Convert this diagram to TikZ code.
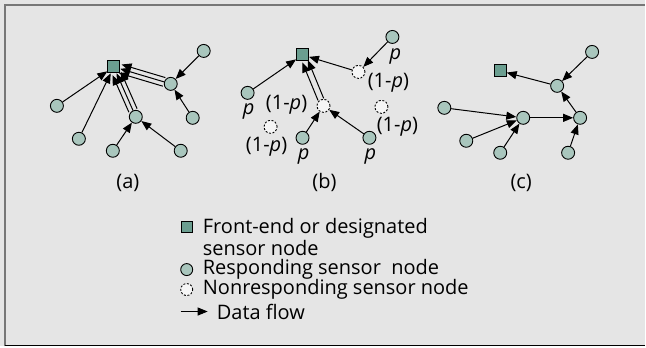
\documentclass[tikz,border=0pt]{standalone}
\usepackage{fontspec}
\setmainfont{Open Sans}
\usetikzlibrary{arrows.meta}

\definecolor{panelgray}{HTML}{E5E5E5}
\definecolor{framegray}{HTML}{777777}
\definecolor{frontgreen}{HTML}{6B9E90}
\definecolor{sensorgreen}{HTML}{A9C6BD}
\definecolor{silentwhite}{HTML}{F6F6F6}

\begin{document}
\begin{tikzpicture}[x=1pt,y=-1pt,>={Triangle[length=10pt,width=8pt]},
    front node/.style={rectangle,fill=frontgreen,draw,line width=0.9pt,
      minimum size=12pt,inner sep=0pt},
    sensor node/.style={circle,fill=sensorgreen,draw,line width=0.9pt,
      minimum size=13pt,inner sep=0pt},
    silent node/.style={circle,fill=silentwhite,draw,line width=0.9pt,
      dash pattern=on 2pt off 1.6pt,minimum size=13pt,inner sep=0pt},
    flow/.style={->,line width=1pt},
    lbl/.style={font=\fontsize{20}{21.5}\selectfont,inner sep=0pt}]

  % background and frame
  \fill[panelgray] (0,0) rectangle (646,347);
  \draw[framegray,line width=2pt] (5,347) -- (5,5) -- (646,5);
  \draw[black,line width=1.5pt] (5,346) -- (646,346);

  % (a)
  \node[front node] (aF) at (114,67) {};
  \node[sensor node] (a1) at (204,51) {};
  \node[sensor node] (a2) at (171,84) {};
  \node[sensor node] (a3) at (193,118) {};
  \node[sensor node] (a4) at (136,117) {};
  \node[sensor node] (a5) at (57,106) {};
  \node[sensor node] (a6) at (79,139) {};
  \node[sensor node] (a7) at (113,151) {};
  \node[sensor node] (a8) at (181,151) {};
  \node[lbl] (aL) at (128,183) {(a)};

  \path[flow]
  (a1) edge (a2)
  (a3) edge (a2)
  (a7) edge (a4)
  (a8) edge (a4)
  (a5) edge (aF)
  (a6) edge (aF);
  \draw[flow] (a2) -- (aF);
  \draw[flow,transform canvas={shift={(1.3,-4.3)}}] (a2) -- (aF);
  \draw[flow,transform canvas={shift={(-1.3,4.3)}}] (a2) -- (aF);
  \draw[flow] (a4) -- (aF);
  \draw[flow,transform canvas={shift={(4.1,-1.8)}}] (a4) -- (aF);
  \draw[flow,transform canvas={shift={(-4.1,1.8)}}] (a4) -- (aF);

  % (b)
  \node[front node] (bF) at (303,55) {};
  \node[sensor node] (b1) at (393,37) {};
  \node[silent node] (b2) at (359,72) {};
  \node[sensor node] (b3) at (248,93) {};
  \node[silent node] (b4) at (324,106) {};
  \node[silent node] (b5) at (382,107) {};
  \node[silent node] (b6) at (271,127) {};
  \node[sensor node] (b7) at (303,138) {};
  \node[sensor node] (b8) at (370,138) {};
  \node[lbl] (b1p) at (396,57) {\textit{p}};
  \node[lbl] (b2p) at (389,83) {(1-\textit{p})};
  \node[lbl] (b3p) at (249,112) {\textit{p}};
  \node[lbl] (b4p) at (287,105) {(1-\textit{p})};
  \node[lbl] (b5p) at (398,127) {(1-\textit{p})};
  \node[lbl] (b6p) at (267,147) {(1-\textit{p})};
  \node[lbl] (b7p) at (304,157) {\textit{p}};
  \node[lbl] (b8p) at (371,157) {\textit{p}};
  \node[lbl] (bL) at (325,183) {(b)};

  \path[flow]
  (b1) edge (b2)
  (b2) edge (bF)
  (b3) edge (bF)
  (b7) edge (b4)
  (b8) edge (b4);
  \draw[flow,transform canvas={shift={(2.8,-1.1)}}] (b4) -- (bF);
  \draw[flow,transform canvas={shift={(-2.8,1.1)}}] (b4) -- (bF);

  % (c)
  \node[front node] (cF) at (501,71) {};
  \node[sensor node] (c1) at (593,52) {};
  \node[sensor node] (c2) at (558,86) {};
  \node[sensor node] (c3) at (445,108) {};
  \node[sensor node] (c4) at (524,118) {};
  \node[sensor node] (c5) at (581,118) {};
  \node[sensor node] (c6) at (467,141) {};
  \node[sensor node] (c7) at (501,153) {};
  \node[sensor node] (c8) at (569,153) {};
  \node[lbl] (cL) at (522,183) {(c)};

  \path[flow]
  (c1) edge (c2)
  (c2) edge (cF)
  (c5) edge (c2)
  (c3) edge (c4)
  (c6) edge (c4)
  (c7) edge (c4)
  (c4) edge (c5)
  (c8) edge (c5);

  % legend
  \node[front node,minimum size=11pt] (kF) at (187,227) {};
  \node[sensor node,minimum size=12pt] (kS) at (187,270) {};
  \node[silent node,minimum size=12pt] (kN) at (187,290) {};
  \coordinate (kA) at (181,312);
  \coordinate (kB) at (208,312);
  \draw[flow] (kA) -- (kB);
  \node[lbl,anchor=west,align=left] (tF) at (203,237.5)
    {Front-end or designated\\sensor node};
  \node[lbl,anchor=west] (tS) at (203,270) {Responding sensor\ \ node};
  \node[lbl,anchor=west] (tN) at (203,290) {Nonresponding sensor node};
  \node[lbl,anchor=west] (tA) at (217,312) {Data flow};
\end{tikzpicture}
\end{document}
